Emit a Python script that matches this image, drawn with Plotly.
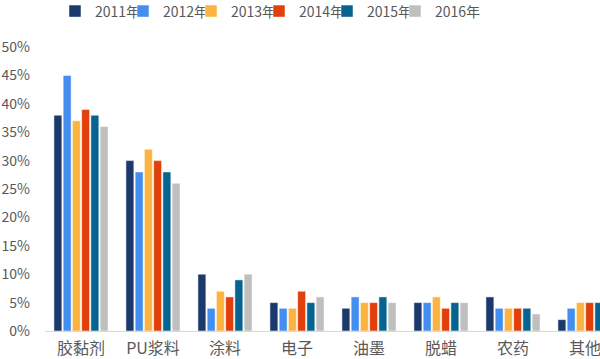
import plotly.graph_objects as go

categories = ["胶黏剂", "PU浆料", "涂料", "电子", "油墨", "脱蜡", "农药", "其他"]
years = ["2011年", "2012年", "2013年", "2014年", "2015年", "2016年"]
v2011 = [0.38, 0.30, 0.10, 0.05, 0.04, 0.05, 0.06, 0.02]
v2012 = [0.45, 0.28, 0.04, 0.04, 0.06, 0.05, 0.04, 0.04]
v2013 = [0.37, 0.32, 0.07, 0.04, 0.05, 0.06, 0.04, 0.05]
v2014 = [0.39, 0.30, 0.06, 0.07, 0.05, 0.04, 0.04, 0.05]
v2015 = [0.38, 0.28, 0.09, 0.05, 0.06, 0.05, 0.04, 0.05]
v2016 = [0.36, 0.26, 0.10, 0.06, 0.05, 0.05, 0.03, 0.05]
series = [v2011, v2012, v2013, v2014, v2015, v2016]
colors = ["#1B3A6B", "#448EF0", "#FCB33F", "#E2400B", "#07648F", "#BFBFBF"]
y_ticks = [0, 0.05, 0.10, 0.15, 0.20, 0.25, 0.30, 0.35, 0.40, 0.45, 0.50]

font = "Noto Sans CJK SC"
W, H = 600, 359
L, R, T, B = 45, 0, 47, 28
pw = W - L - R

fig = go.Figure()
legends = {}
for i, (name, vals, c) in enumerate(zip(years, series, colors)):
    key = "legend" if i == 0 else f"legend{i+1}"
    fig.add_trace(go.Bar(x=categories, y=vals, name=name, marker_color=c,
                         marker_line_color="white", marker_line_width=0.5,
                         legend=key))
    legends[key] = dict(orientation="h", x=(10 + 68 * i) / pw, xanchor="left",
                        y=1.125, yanchor="middle",
                        font=dict(size=14, color="#595959"),
                        bgcolor="rgba(0,0,0,0)")

fig.update_layout(
    width=W, height=H,
    margin=dict(l=L, r=R, t=T, b=B, autoexpand=False),
    paper_bgcolor="white", plot_bgcolor="white",
    barmode="group", bargap=0.23, bargroupgap=0.14,
    font=dict(family=font, color="#595959", size=14),
    showlegend=True,
    **legends,
)
fig.update_xaxes(range=[-0.5, 7.5 - 21/72], showline=True, linecolor="#D9D9D9",
                 linewidth=1, ticks="", ticklabelstandoff=3,
                 tickfont=dict(size=16, color="#595959"),
                 showgrid=False, automargin=False)
fig.update_yaxes(range=[0, 0.5], tickvals=y_ticks, tickformat=".0%", showgrid=False,
                 zeroline=False, showline=False, ticks="", ticklabelstandoff=14,
                 automargin=False, tickfont=dict(size=14, color="#595959"))

fig.write_html("out.html", config={"displayModeBar": False},
               post_script="document.body.style.margin='0';document.body.style.overflow='hidden';")
